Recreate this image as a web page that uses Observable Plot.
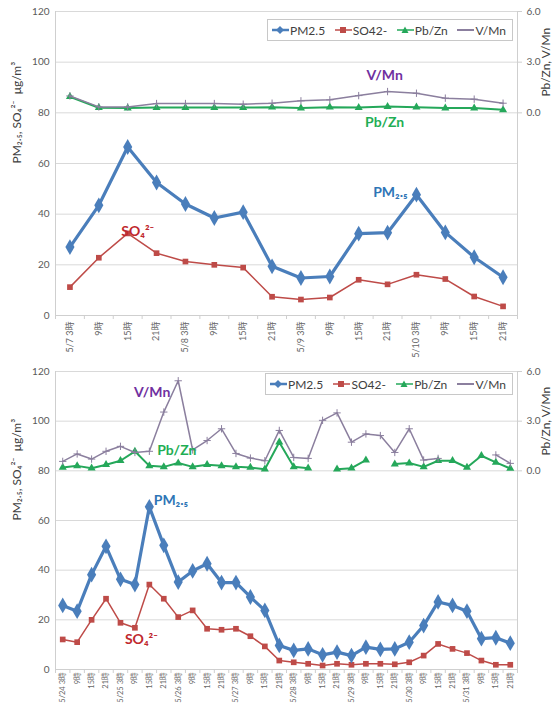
<!DOCTYPE html>
<html><head><meta charset="utf-8">
<script src="https://cdn.jsdelivr.net/npm/d3@7"></script>
<script src="https://cdn.jsdelivr.net/npm/@observablehq/plot@0.6"></script>
<style>
body{margin:0;background:#fff;font-family:Lato,"Noto Sans CJK JP",sans-serif;}
#wrap{position:relative;width:560px;height:705px;overflow:hidden;}
.panel{position:absolute;left:0;}
.legend{position:absolute;border:1px solid #c8c8c8;background:#fff;display:flex;align-items:center;justify-content:space-between;font-size:12px;color:#404040;padding:0 6px 0 4px;box-sizing:border-box;}
.legend .item{display:flex;align-items:center;}
.legend svg{margin-right:1px;}
</style></head>
<body><div id="wrap"></div>
<script>
// ---- data: top panel (May 7 - May 10) ----
const topLabels = ["5/7 3時","9時","15時","21時","5/8 3時","9時","15時","21時","5/9 3時","9時","15時","21時","5/10 3時","9時","15時","21時"];
const topPM = [27, 43.5, 66.5, 52.5, 44, 38.5, 40.8, 19.4, 14.8, 15.4, 32.3, 32.7, 47.7, 32.8, 23, 15.1];
const topSO4 = [11.2, 22.8, 32.4, 24.6, 21.3, 20, 18.9, 7.4, 6.3, 7.1, 14.1, 12.3, 16.1, 14.4, 7.5, 3.6];
const topPbZn = [0.95, 0.3, 0.28, 0.31, 0.31, 0.31, 0.31, 0.33, 0.28, 0.33, 0.31, 0.37, 0.33, 0.28, 0.28, 0.18];
const topVMn = [1.0, 0.35, 0.35, 0.55, 0.55, 0.55, 0.51, 0.57, 0.71, 0.77, 1.02, 1.26, 1.16, 0.87, 0.81, 0.57];

// ---- data: bottom panel (May 24 - May 31) ----
const botLabels = ["5/24 3時","9時","15時","21時","5/25 3時","9時","15時","21時","5/26 3時","9時","15時","21時","5/27 3時","9時","15時","21時","5/28 3時","9時","15時","21時","5/29 3時","9時","15時","21時","5/30 3時","9時","15時","21時","5/31 3時","9時","15時","21時"];
const botPM = [25.8, 23.5, 38.2, 49.6, 36.3, 34.2, 65.5, 50, 35.2, 39.7, 42.6, 35, 35, 29.2, 23.8, 9.7, 7.7, 8.3, 5.9, 7, 5.6, 9, 8.1, 8.3, 11, 17.7, 27.2, 25.8, 23.5, 12.4, 12.8, 10.6];
const botSO4 = [12.1, 11, 20, 28.5, 18.8, 16.8, 34.2, 28.5, 21.1, 23.8, 16.4, 16, 16.4, 13.4, 9.3, 3.6, 2.9, 2.3, 1.6, 2.3, 1.9, 2.3, 2.3, 2.1, 2.9, 5.6, 10.3, 8.3, 6.6, 3.6, 1.9, 1.9];
const botPbZn = [0.2, 0.3, 0.16, 0.37, 0.61, 1.18, 0.3, 0.24, 0.47, 0.24, 0.37, 0.3, 0.24, 0.2, 0.1, 1.73, 0.24, 0.16, null, 0.1, 0.16, 0.65, null, 0.41, 0.47, 0.24, 0.61, 0.61, 0.2, 0.91, 0.51, 0.14];
const botVMn = [0.57, 1.02, 0.71, 1.18, 1.48, 1.11, 1.18, 3.55, 5.44, 1.26, 1.83, 2.54, 1.05, 0.77, 0.61, 2.44, 0.81, 0.75, 3.05, 3.5, 1.73, 2.23, 2.13, 1.11, 2.54, 0.65, 0.75, null, null, null, 0.96, 0.45];

const seriesNames = ["PM2.5", "SO42-", "Pb/Zn", "V/Mn"];
const leftTicks = [0, 20, 40, 60, 80, 100, 120];
const rightTicks = [0, 3, 6];

const C = {pm: "#4a7ebb", so4: "#be4b48", pbzn: "#25a85a", vmn: "#8b7f9e"};
const toLeft = v => 80 + v * 20 / 3;   // right axis 0..6 sits on left 80..120

function makePanel({labels, pm, so4, pbzn, vmn, height, marginTop, marginBottom, notes, labelSize, labelPad}) {
  const n = labels.length;
  const rows = labels.map((lab, i) => ({i, pm: pm[i], so4: so4[i], pbzn: pbzn[i], vmn: vmn[i]}));
  const has = k => rows.filter(d => d[k] != null);
  const R = k => d => d[k] == null ? NaN : toLeft(d[k]);
  return Plot.plot({
    width: 560, height, marginTop, marginBottom, marginLeft: 55, marginRight: 43,
    style: {fontFamily: "Lato, 'Noto Sans CJK JP', sans-serif", fontSize: "10px", color: "#595959", background: "transparent", overflow: "visible"},
    x: {domain: [-0.5, n - 0.5]},
    y: {domain: [0, 120]},
    marks: [
      Plot.gridY({ticks: leftTicks.slice(1), stroke: "#d9d9d9", strokeOpacity: 1}),
      Plot.ruleX([-0.5, n - 0.5], {stroke: "#cfcfcf"}),
      Plot.ruleY([0], {stroke: "#cfcfcf"}),
      Plot.axisY({ticks: leftTicks, tickSize: 0, tickPadding: 6, label: null}),
      Plot.axisY({anchor: "right", ticks: rightTicks.map(toLeft), tickFormat: d => ((d - 80) * 3 / 20).toFixed(1), tickSize: 4, tickPadding: 5, stroke: "#cfcfcf", label: null}),
      Plot.axisX({ticks: d3.range(n + 1).map(i => i - 0.5), tickFormat: () => "", tickSize: 4, stroke: "#cfcfcf", label: null}),
      Plot.axisX({ticks: d3.range(n), tickFormat: i => labels[i], tickRotate: -90, tickSize: 0, tickPadding: labelPad, fontSize: labelSize, fill: "#666", label: null}),
      Plot.line(rows, {x: "i", y: R("pbzn"), stroke: C.pbzn, strokeWidth: 2}),
      Plot.dot(has("pbzn"), {x: "i", y: R("pbzn"), symbol: "triangle", fill: C.pbzn, r: 3}),
      Plot.line(rows, {x: "i", y: R("vmn"), stroke: C.vmn, strokeWidth: 1.5}),
      Plot.dot(has("vmn"), {x: "i", y: R("vmn"), symbol: "plus", stroke: C.vmn, r: 2.5, strokeWidth: 1}),
      Plot.line(rows, {x: "i", y: "so4", stroke: C.so4, strokeWidth: 1.5}),
      Plot.dot(rows, {x: "i", y: "so4", symbol: "square", fill: C.so4, r: 3.2}),
      Plot.line(rows, {x: "i", y: "pm", stroke: C.pm, strokeWidth: 3.2}),
      Plot.dot(rows, {x: "i", y: "pm", symbol: "diamond", fill: C.pm, r: 4.8}),
      Plot.text(notes, {x: "x", y: "y", text: "text", fill: "color", textAnchor: "anchor", fontWeight: "bold", fontSize: 14}),
      Plot.text(["PM₂.₅, SO₄²⁻  μg/m³"], {frameAnchor: "left", dx: -38, rotate: -90, fontSize: 12, fill: "#404040"}),
      Plot.text(["Pb/Zn, V/Mn"], {x: [n - 0.5], y: [toLeft(3)], dx: 29, rotate: -90, fontSize: 12, fill: "#404040"})
    ]
  });
}

function swatch(key) {
  const col = C[key];
  let m = "";
  if (key === "pm") m = `<path d="M8,1 L12,5 L8,9 L4,5Z" fill="${col}"/>`;
  if (key === "so4") m = `<rect x="5" y="2" width="6" height="6" fill="${col}"/>`;
  if (key === "pbzn") m = `<path d="M8,1.5 L11.5,8 L4.5,8Z" fill="${col}"/>`;
  const w = key === "vmn" ? 2 : (key === "pm" ? 2.5 : 1.5);
  return `<svg width="17" height="10"><line x1="0" y1="5" x2="17" y2="5" stroke="${col}" stroke-width="${w}"/>${m}</svg>`;
}
function legend(left, top, width) {
  const d = document.createElement("div");
  d.className = "legend";
  d.style.left = left + "px"; d.style.top = top + "px"; d.style.width = width + "px"; d.style.height = "22px";
  const keys = ["pm", "so4", "pbzn", "vmn"];
  d.innerHTML = keys.map((k, j) => `<span class="item">${swatch(k)}${seriesNames[j]}</span>`).join("");
  return d;
}

const wrap = document.getElementById("wrap");
const topNotes = [
  {text: "V/Mn", x: 10.9, y: 94.9, color: "#7030a0", anchor: "middle"},
  {text: "Pb/Zn", x: 10.9, y: 76, color: "#1fae55", anchor: "middle"},
  {text: "PM₂.₅", x: 11.1, y: 48.6, color: "#2e75b6", anchor: "middle"},
  {text: "SO₄²⁻", x: 2.35, y: 33.2, color: "#c0282d", anchor: "start"}
];
const botNotes = [
  {text: "V/Mn", x: 6.2, y: 111.7, color: "#7030a0", anchor: "middle"},
  {text: "Pb/Zn", x: 7.9, y: 88.3, color: "#1fae55", anchor: "middle"},
  {text: "PM₂.₅", x: 7.5, y: 68.2, color: "#2e75b6", anchor: "middle"},
  {text: "SO₄²⁻", x: 5.45, y: 12.1, color: "#c0282d", anchor: "middle"}
];

const p1 = makePanel({labels: topLabels, pm: topPM, so4: topSO4, pbzn: topPbZn, vmn: topVMn, height: 358, marginTop: 11, marginBottom: 43, notes: topNotes, labelSize: 9, labelPad: 6});
p1.classList.add("panel"); p1.style.top = "0px";
const p2 = makePanel({labels: botLabels, pm: botPM, so4: botSO4, pbzn: botPbZn, vmn: botVMn, height: 347, marginTop: 13, marginBottom: 36, notes: botNotes, labelSize: 7.5, labelPad: 3});
p2.classList.add("panel"); p2.style.top = "358px";
wrap.appendChild(p1);
wrap.appendChild(p2);
wrap.appendChild(legend(267, 19, 246));
wrap.appendChild(legend(265, 373, 248));
</script>
</body></html>
